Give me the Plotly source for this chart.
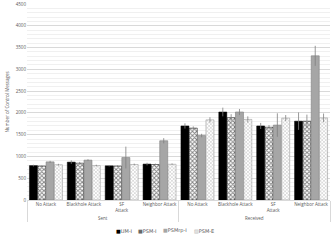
import plotly.graph_objects as go

groups = ["Sent"] * 4 + ["Received"] * 4
attacks = ["No Attack", "Blackhole Attack", "SF<br>Attack", "Neighbor Attack"] * 2

um_i = [790, 870, 785, 825, 1700, 2020, 1700, 1810]
um_i_err = [20, 40, 15, 30, 60, 100, 70, 200]
psm_i = [780, 845, 780, 815, 1650, 1890, 1670, 1810]
psm_i_err = [10, 30, 15, 20, 40, 80, 50, 150]
psmrp_i = [875, 915, 975, 1360, 1480, 2020, 1720, 3310]
psmrp_i_err = [25, 20, 250, 60, 40, 70, 270, 230]
psm_e = [810, 790, 815, 820, 1840, 1850, 1880, 1885]
psm_e_err = [20, 20, 20, 20, 60, 70, 70, 100]

y_ticks = [0, 500, 1000, 1500, 2000, 2500, 3000, 3500, 4000, 4500]

legend_names = ["UM-I", "PSM-I", "PSMrp-I", "PSM-E"]
legend_glyphs = ["■", "▩", "■", "▨"]
legend_colors = ["black", "#333333", "#a6a6a6", "#a6a6a6"]

x = [groups, attacks]
err_style = dict(type="data", color="#7f7f7f", thickness=0.8, width=0)

fig = go.Figure()
fig.add_bar(name="UM-I", x=x, y=um_i,
            error_y=dict(array=um_i_err, **err_style),
            marker=dict(color="black", line=dict(color="black", width=0.5)))
fig.add_bar(name="PSM-I", x=x, y=psm_i,
            error_y=dict(array=psm_i_err, **err_style),
            marker=dict(color="white", line=dict(color="black", width=0.5),
                        pattern=dict(shape="x", fgcolor="black", bgcolor="white",
                                     size=3, solidity=0.5)))
fig.add_bar(name="PSMrp-I", x=x, y=psmrp_i,
            error_y=dict(array=psmrp_i_err, **err_style),
            marker=dict(color="#a6a6a6", line=dict(color="#7f7f7f", width=0.6)))
fig.add_bar(name="PSM-E", x=x, y=psm_e,
            error_y=dict(array=psm_e_err, **err_style),
            marker=dict(color="white", line=dict(color="#8c8c8c", width=0.5),
                        pattern=dict(shape="x", fgcolor="#8c8c8c", bgcolor="white",
                                     size=2.5, solidity=0.4)))

# compact legend drawn as text, like the reference
lx = [0.288, 0.360, 0.443, 0.545]
for name, glyph, col, xx in zip(legend_names, legend_glyphs, legend_colors, lx):
    fig.add_annotation(xref="paper", yref="paper", x=xx, y=-0.158, xanchor="left",
                       yanchor="middle", showarrow=False,
                       text=f"<span style='color:{col}'>{glyph}</span>{name}",
                       font=dict(family="DejaVu Sans, sans-serif", size=5, color="#595959"))

fig.update_layout(
    width=332, height=240,
    margin=dict(l=27, r=2, t=4, b=40),
    paper_bgcolor="white", plot_bgcolor="white",
    barmode="group", bargap=0.12, bargroupgap=0.04,
    font=dict(family="Open Sans, Liberation Sans, sans-serif", size=4.5, color="#595959"),
    showlegend=False,
    xaxis=dict(type="multicategory", showgrid=False, showline=True,
               linecolor="#d9d9d9", linewidth=0.8, ticks="",
               dividercolor="#d9d9d9", dividerwidth=0.8,
               tickangle=0,
               tickfont=dict(size=4.5, color="#595959")),
    yaxis=dict(range=[0, 4500], tickvals=y_ticks,
               ticktext=[str(v) for v in y_ticks],
               showgrid=True, gridcolor="#d9d9d9", gridwidth=0.8,
               minor=dict(dtick=100, showgrid=True, gridcolor="#f0f0f0", gridwidth=0.5),
               zeroline=False, showline=False,
               tickfont=dict(size=4.5, color="#595959"),
               title=dict(text="Number of Control Messages",
                          font=dict(size=4.5, color="#595959"), standoff=6)),
)

fig.write_html("out.html", config={"displayModeBar": False},
               post_script="document.body.style.margin='0';")
